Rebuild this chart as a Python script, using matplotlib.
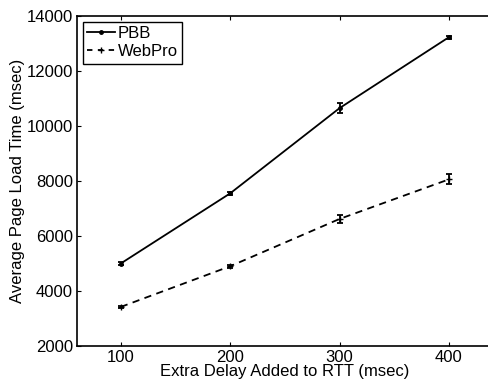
import matplotlib
matplotlib.use("Agg")
import matplotlib.pyplot as plt
from matplotlib.lines import Line2D

plt.rcParams['font.family'] = ['Liberation Sans', 'DejaVu Sans']

delays = [100, 200, 300, 400]
pbb = [5000, 7550, 10650, 13230]
pbb_err = [50, 60, 170, 60]
webpro = [3420, 4900, 6620, 8060]
webpro_err = [50, 60, 160, 180]
xticks = [100, 200, 300, 400]
yticks = [2000, 4000, 6000, 8000, 10000, 12000, 14000]

fig = plt.figure(figsize=(4.89, 3.82), dpi=100)
ax = fig.add_axes([77/489, 36/382, 415.7/489, 330/382])

ax.errorbar(delays, pbb, yerr=pbb_err, color='black', linestyle='-', marker='.',
            markersize=5, linewidth=1.3, capsize=2.5, elinewidth=1.3, capthick=1.3)
ax.errorbar(delays, webpro, yerr=webpro_err, color='black', linestyle='--', marker='+',
            markersize=4, linewidth=1.3, capsize=2.5, elinewidth=1.3, capthick=1.3,
            dashes=(4, 3))

ax.set_xlim(60, 440)
ax.set_ylim(2000, 14000)
ax.set_xticks(xticks)
ax.set_yticks(yticks)
ax.tick_params(direction='in', top=True, right=True, length=3, width=0.8, labelsize=12, pad=3)
for s in ax.spines.values():
    s.set_linewidth(1.2)
ax.spines['right'].set_visible(False)
ax.set_xlabel('Extra Delay Added to RTT (msec)', fontsize=12, labelpad=-1)
ax.set_ylabel('Average Page Load Time (msec)', fontsize=12, labelpad=1)

handles = [
    Line2D([], [], color='black', linestyle='-', marker='.', markersize=5, linewidth=1.3),
    Line2D([], [], color='black', linestyle='--', marker='+', markersize=5, linewidth=1.3, dashes=(3, 3)),
]
leg = ax.legend(handles, ['PBB', 'WebPro'], loc='upper left', fontsize=12, frameon=True,
                fancybox=False, edgecolor='black', framealpha=1, handlelength=1.7,
                handletextpad=0.15, borderpad=0.25, labelspacing=0.2, borderaxespad=0.35)
leg.get_frame().set_linewidth(1.0)

fig.savefig('out.png', dpi=100)
